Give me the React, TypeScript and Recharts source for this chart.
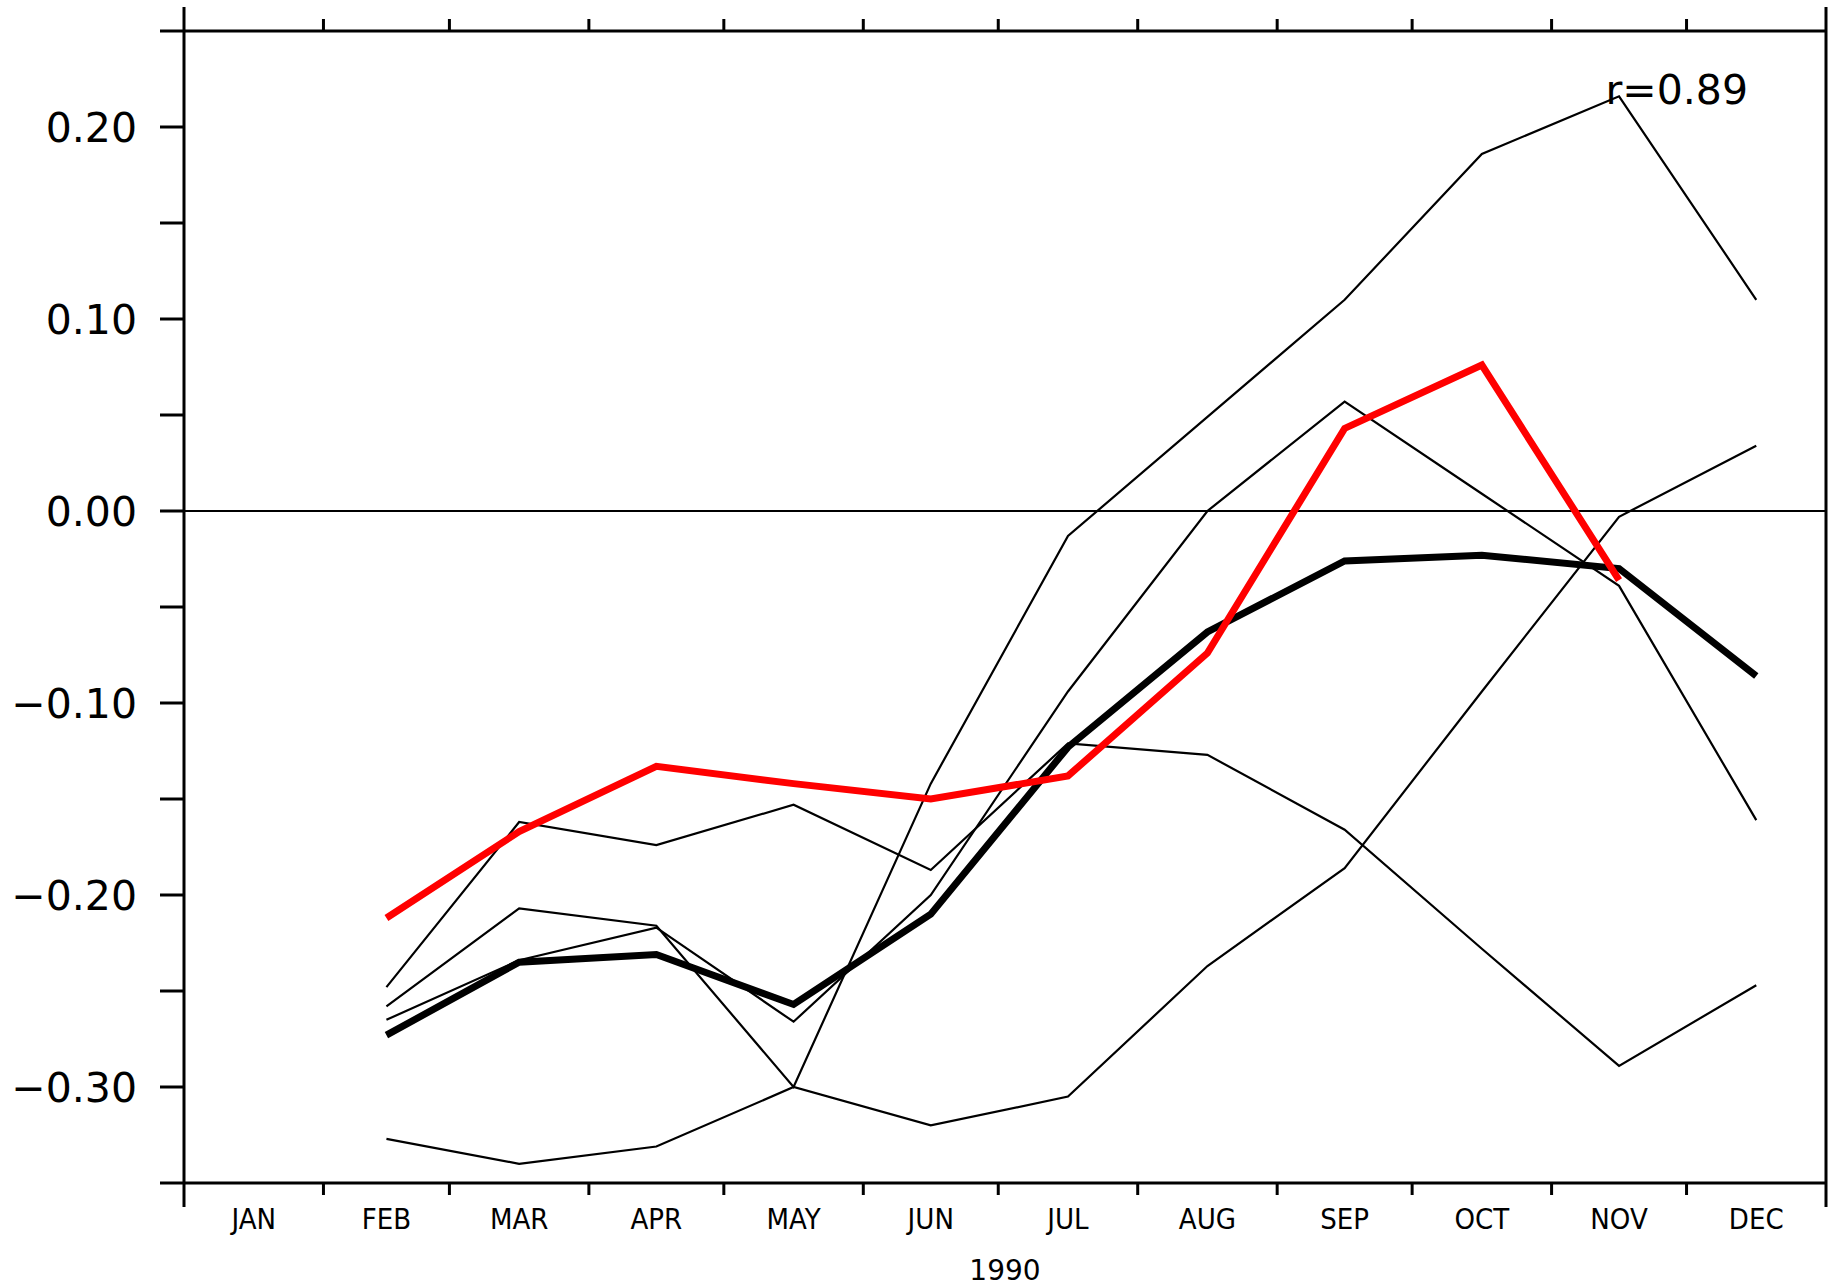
import React from 'react';
import { LineChart, Line, XAxis, YAxis, ReferenceLine } from 'recharts';

// ---- data ----
const MONTHS = ['JAN', 'FEB', 'MAR', 'APR', 'MAY', 'JUN', 'JUL', 'AUG', 'SEP', 'OCT', 'NOV', 'DEC'];
const MONTH_START_DAYS = [0, 31, 59, 90, 120, 151, 181, 212, 243, 273, 304, 334, 365];
const MONTH_MID_DAYS = [15.5, 45, 74.5, 105, 135.5, 166, 196.5, 227.5, 258, 288.5, 319, 349.5];
const Y_TICKS = [-0.35, -0.3, -0.25, -0.2, -0.15, -0.1, -0.05, 0, 0.05, 0.1, 0.15, 0.2, 0.25];
const YEAR_LABEL = '1990';
const CORR_LABEL = 'r=0.89';

const member1 = [null, -0.248, -0.162, -0.174, -0.153, -0.187, -0.121, -0.127, -0.166, -0.228, -0.289, -0.247];
const member2 = [null, -0.258, -0.207, -0.216, -0.300, -0.142, -0.013, 0.049, 0.110, 0.186, 0.216, 0.110];
const member3 = [null, -0.265, -0.234, -0.217, -0.266, -0.200, -0.094, 0.000, 0.057, 0.009, -0.039, -0.161];
const member4 = [null, -0.327, -0.340, -0.331, -0.300, -0.320, -0.305, -0.237, -0.186, -0.094, -0.003, 0.034];
const ensembleMean = [null, -0.273, -0.235, -0.231, -0.257, -0.210, -0.123, -0.063, -0.026, -0.023, -0.030, -0.086];
const observed = [null, -0.212, -0.167, -0.133, -0.142, -0.150, -0.138, -0.074, 0.043, 0.076, -0.036, null];

const rows = MONTHS.map((m, i) => ({
  month: m,
  day: MONTH_MID_DAYS[i],
  m1: member1[i],
  m2: member2[i],
  m3: member3[i],
  m4: member4[i],
  mean: ensembleMean[i],
  obs: observed[i],
}));

const BOTTOM_TICKS = [...MONTH_START_DAYS, ...MONTH_MID_DAYS].sort((a, b) => a - b);

const AXIS_FONT = "'DejaVu Sans', 'Liberation Sans', sans-serif";
const MONTH_FONT = "'DejaVu Sans Condensed', 'DejaVu Sans', sans-serif";

const edgeLen = (idx: number) => (idx === 0 || idx === MONTH_START_DAYS.length - 1 ? 24 : 12);

const BottomTick = (props: any) => {
  const { x, y, payload } = props;
  const v = payload.value;
  const bi = MONTH_START_DAYS.indexOf(v);
  if (bi >= 0) {
    return <line x1={x} x2={x} y1={y} y2={y + edgeLen(bi)} stroke="#000" strokeWidth={3} />;
  }
  const mi = MONTH_MID_DAYS.indexOf(v);
  return (
    <text
      x={x}
      y={y + 46}
      textAnchor="middle"
      fontFamily={MONTH_FONT}
      style={{ fontStretch: 'condensed' }}
      fontSize={29}
      fill="#000"
    >
      {MONTHS[mi]}
    </text>
  );
};

const TopTick = (props: any) => {
  const { x, y, payload } = props;
  const bi = MONTH_START_DAYS.indexOf(payload.value);
  return <line x1={x} x2={x} y1={y} y2={y - edgeLen(bi)} stroke="#000" strokeWidth={3} />;
};

const LeftTick = (props: any) => {
  const { x, y, payload } = props;
  const v = payload.value as number;
  const h = Math.round(v * 100);
  if (h % 10 !== 0) return <g />;
  const label = (h < 0 ? '\u2212' : '') + Math.abs(v).toFixed(2);
  return (
    <text x={x} y={y + 15} textAnchor="end" fontFamily={AXIS_FONT} fontSize={41} fill="#000">
      {label}
    </text>
  );
};

const EmptyTick = () => <g />;

const axisStroke = { stroke: '#000', strokeWidth: 3 };

export default function App() {
  return (
    <div style={{ position: 'absolute', left: 0, top: 0, width: 1836, height: 1286, background: '#fff' }}>
      <LineChart width={1836} height={1286} data={rows} margin={{ top: 0, right: 0, bottom: 0, left: 0 }}>
        <XAxis
          xAxisId="main"
          dataKey="day"
          type="number"
          domain={[0, 365]}
          ticks={BOTTOM_TICKS}
          interval={0}
          height={103}
          tickSize={0}
          tickMargin={0}
          tickLine={false}
          axisLine={axisStroke}
          tick={<BottomTick />}
          label={{ value: YEAR_LABEL, position: 'insideBottom', offset: 6, fontSize: 28, fontFamily: AXIS_FONT, fill: '#000' }}
        />
        <XAxis
          xAxisId="top"
          orientation="top"
          dataKey="day"
          type="number"
          domain={[0, 365]}
          ticks={MONTH_START_DAYS}
          interval={0}
          height={31}
          tickSize={0}
          tickMargin={0}
          tickLine={false}
          axisLine={axisStroke}
          tick={<TopTick />}
        />
        <YAxis
          yAxisId="left"
          type="number"
          domain={[-0.35, 0.25]}
          ticks={Y_TICKS}
          interval={0}
          width={184}
          tickSize={24}
          tickMargin={23}
          tickLine={axisStroke}
          axisLine={axisStroke}
          tick={<LeftTick />}
        />
        <YAxis
          yAxisId="right"
          orientation="right"
          type="number"
          domain={[-0.35, 0.25]}
          ticks={Y_TICKS}
          interval={0}
          width={10}
          tickSize={24}
          tickLine={axisStroke}
          axisLine={axisStroke}
          tick={<EmptyTick />}
        />
        <ReferenceLine xAxisId="main" yAxisId="left" y={0} stroke="#000" strokeWidth={2} />
        {(['m1', 'm2', 'm3', 'm4'] as const).map((k) => (
          <Line
            key={k}
            xAxisId="main"
            yAxisId="left"
            type="linear"
            dataKey={k}
            stroke="#000"
            strokeWidth={2.2}
            dot={false}
            activeDot={false}
            isAnimationActive={false}
          />
        ))}
        <Line
          xAxisId="main"
          yAxisId="left"
          type="linear"
          dataKey="mean"
          stroke="#000"
          strokeWidth={7}
          dot={false}
          activeDot={false}
          isAnimationActive={false}
        />
        <Line
          xAxisId="main"
          yAxisId="left"
          type="linear"
          dataKey="obs"
          stroke="#ff0000"
          strokeWidth={7}
          dot={false}
          activeDot={false}
          isAnimationActive={false}
        />
      </LineChart>
      <svg width={1836} height={1286} style={{ position: 'absolute', left: 0, top: 0, pointerEvents: 'none' }}>
        <text x={1748} y={104} textAnchor="end" fontFamily={AXIS_FONT} fontSize={41} fill="#000">
          {CORR_LABEL}
        </text>
      </svg>
    </div>
  );
}
